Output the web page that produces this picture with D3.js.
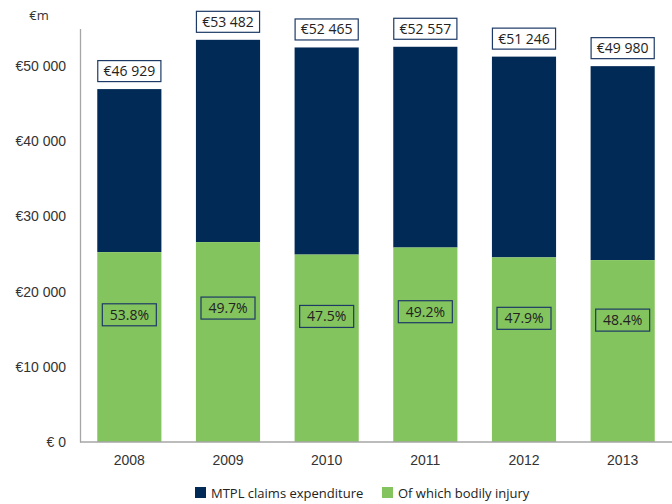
<!DOCTYPE html>
<html>
<head>
<meta charset="utf-8">
<script src="https://cdn.jsdelivr.net/npm/d3@7"></script>
<style>
  html, body { margin: 0; padding: 0; background: #fff; }
  svg { display: block; font-family: "Open Sans", "Noto Sans", sans-serif; }
</style>
</head>
<body>
<svg id="chart" width="672" height="504"></svg>
<script>
// MTPL claims expenditure (€m) and the share of it that is bodily injury
const years = ["2008", "2009", "2010", "2011", "2012", "2013"];
const totalClaims = [46929, 53482, 52465, 52557, 51246, 49980];
const bodilyShare = [53.8, 49.7, 47.5, 49.2, 47.9, 48.4];
const yTicks = [0, 10000, 20000, 30000, 40000, 50000];
const seriesNames = ["MTPL claims expenditure", "Of which bodily injury"];

const NAVY = "#022a56";
const GREEN = "#84c45e";
const BOX = "#1d3a66";

const svg = d3.select("#chart");
const plotLeft = 80, plotRight = 672, plotTop = 28.4, plotBottom = 442;

const x = d3.scaleBand().domain(years).range([plotLeft, plotRight])
  .paddingInner(0.35).paddingOuter(0.175);
const y = d3.scaleLinear().domain([0, 55000]).range([plotBottom, plotTop]);

const rows = years.map((yr, i) => ({
  year: yr,
  total: totalClaims[i],
  share: bodilyShare[i],
  bodily: totalClaims[i] * bodilyShare[i] / 100
}));

// Stacked bars: bodily injury at the base, remainder of total above
const bars = svg.append("g").selectAll("g").data(rows).join("g");
bars.append("rect")
  .attr("x", d => x(d.year)).attr("width", x.bandwidth())
  .attr("y", d => y(d.total)).attr("height", d => y(d.bodily) - y(d.total))
  .attr("fill", NAVY);
bars.append("rect")
  .attr("x", d => x(d.year)).attr("width", x.bandwidth())
  .attr("y", d => y(d.bodily)).attr("height", d => y(0) - y(d.bodily))
  .attr("fill", GREEN);

// Axes
const yAxis = d3.axisLeft(y).tickValues(yTicks).tickSize(0).tickPadding(14)
  .tickFormat(v => v === 0 ? "€ 0" : "€" + d3.format(",")(v).replace(/,/g, " "));
const gy = svg.append("g").attr("transform", `translate(${plotLeft},0)`).call(yAxis);
gy.select(".domain").attr("stroke", "#a6a6a6").attr("stroke-width", 1.3);
gy.selectAll("text").attr("font-size", 14).attr("fill", "#333");

const xAxis = d3.axisBottom(x).tickSize(0).tickPadding(13);
const gx = svg.append("g").attr("transform", `translate(0,${plotBottom})`).call(xAxis);
gx.select(".domain").attr("stroke", "#a6a6a6").attr("stroke-width", 1.3)
  .attr("d", `M${plotLeft},0H${plotRight}`);
gx.selectAll("text").attr("font-size", 14).attr("fill", "#333");

svg.append("text").attr("x", 39).attr("y", 20).attr("text-anchor", "middle")
  .attr("font-size", 13).attr("fill", "#333").text("€m");

// Total labels in boxes above each bar
const fmtTotal = v => "€" + d3.format(",")(v).replace(/,/g, " ");
const tl = svg.append("g").selectAll("g").data(rows).join("g")
  .attr("transform", d => `translate(${x(d.year)},${y(d.total) - 29})`);
tl.append("rect").attr("x", 0.5).attr("y", 0.5)
  .attr("width", x.bandwidth() - 1).attr("height", 21)
  .attr("fill", "#fff").attr("stroke", BOX).attr("stroke-width", 1.2);
tl.append("text").attr("x", x.bandwidth() / 2).attr("y", 16)
  .attr("text-anchor", "middle").attr("font-size", 14).attr("fill", "#222")
  .text(d => fmtTotal(d.total));

// Bodily injury share labels inside the green segment
const pl = svg.append("g").selectAll("g").data(rows).join("g")
  .attr("transform", d => `translate(${x(d.year) + x.bandwidth() / 2},${y(d.bodily * 0.67)})`);
pl.append("rect").attr("x", -27).attr("y", -11).attr("width", 54).attr("height", 22)
  .attr("fill", "none").attr("stroke", BOX).attr("stroke-width", 1.2);
pl.append("text").attr("y", 5).attr("text-anchor", "middle")
  .attr("font-size", 14).attr("fill", "#222")
  .text(d => d.share.toFixed(1) + "%");

// Legend
const legend = svg.append("g").attr("transform", "translate(195,487)");
const items = [{ name: seriesNames[0], color: NAVY, dx: 0 }, { name: seriesNames[1], color: GREEN, dx: 187 }];
const li = legend.selectAll("g").data(items).join("g")
  .attr("transform", d => `translate(${d.dx},0)`);
li.append("rect").attr("width", 11).attr("height", 11).attr("fill", d => d.color);
li.append("text").attr("x", 16).attr("y", 10.5).attr("font-size", 13).attr("fill", "#222")
  .text(d => d.name);
</script>
</body>
</html>
